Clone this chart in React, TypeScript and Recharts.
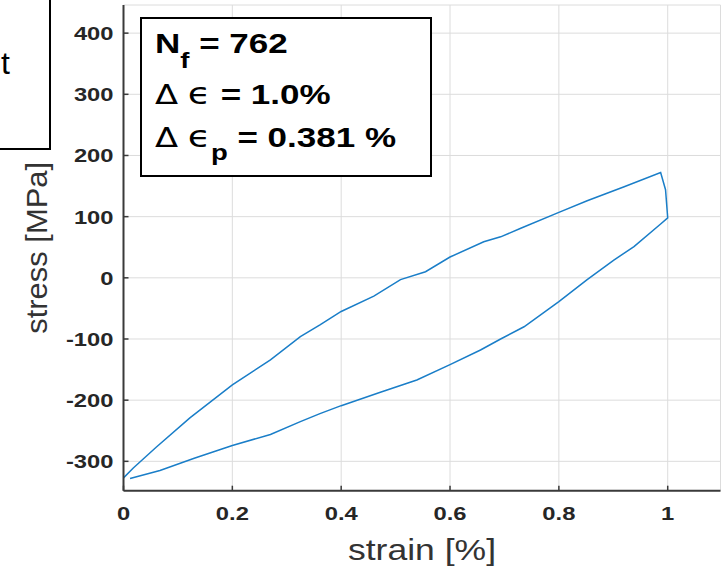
import { LineChart, Line, XAxis, YAxis, CartesianGrid } from 'recharts';

// loading branch, bottom-left to the peak at +1 %
const upperStrain = [0, 0.018, 0.06, 0.122, 0.2, 0.27, 0.325, 0.361, 0.4, 0.46, 0.509, 0.555, 0.6, 0.662, 0.693, 0.73, 0.8, 0.852, 0.92, 0.987, 0.996, 1.0];
const upperStress = [-327, -311, -277, -229, -175, -134, -96, -77, -55, -30, -3, 10, 34, 59, 67, 81, 107, 126, 149, 172, 144, 98];

// unloading branch, back down to the bottom-left
const lowerStrain = [0.987, 0.938, 0.901, 0.852, 0.8, 0.736, 0.693, 0.656, 0.6, 0.539, 0.472, 0.4, 0.361, 0.325, 0.27, 0.2, 0.13, 0.067, 0.012];
const lowerStress = [88, 51, 29, -3, -39, -80, -100, -118, -142, -167, -187, -209, -222, -235, -256, -274, -295, -315, -328];

const xTicks = [0, 0.2, 0.4, 0.6, 0.8, 1];
const yTicks = [-300, -200, -100, 0, 100, 200, 300, 400];

const data = [
  ...upperStrain.map((s, i) => ({ strain: s, stress: upperStress[i] })),
  ...lowerStrain.map((s, i) => ({ strain: s, stress: lowerStress[i] })),
];

const FONT = '"Liberation Sans", Arial, Helvetica, sans-serif';
const AXIS = '#3a3a3a';
const STRETCH = 1.25;

const XTick = (props: any) => {
  const { x, y, payload } = props;
  return (
    <g>
      <line x1={x} y1={y} x2={x} y2={y - 5} stroke={AXIS} strokeWidth={1.5} />
      <text
        transform={`translate(${x},${y + 29}) scale(${STRETCH},1)`}
        textAnchor="middle"
        fontFamily={FONT}
        fontWeight="bold"
        fontSize={19}
        fill="#262626"
      >
        {payload.value}
      </text>
    </g>
  );
};

const YTick = (props: any) => {
  const { x, y, payload } = props;
  return (
    <g>
      <line x1={x} y1={y} x2={x + 5} y2={y} stroke={AXIS} strokeWidth={1.5} />
      <text
        transform={`translate(${x - 10},${y + 7}) scale(${STRETCH},1)`}
        textAnchor="end"
        fontFamily={FONT}
        fontWeight="bold"
        fontSize={19}
        fill="#262626"
      >
        {payload.value}
      </text>
    </g>
  );
};

const TopTick = (props: any) => (
  <line x1={props.x} y1={props.y} x2={props.x} y2={props.y + 5} stroke={AXIS} strokeWidth={1.5} />
);

const RightTick = (props: any) => (
  <line x1={props.x} y1={props.y} x2={props.x - 5} y2={props.y} stroke={AXIS} strokeWidth={1.5} />
);

const XLabel = (props: any) => {
  const { viewBox } = props;
  return (
    <text
      x={viewBox.x + viewBox.width / 2}
      y={viewBox.y + 69}
      textAnchor="middle"
      fontFamily={FONT}
      fontSize={30}
      fill="#333"
      textLength={148}
      lengthAdjust="spacingAndGlyphs"
    >
      strain [%]
    </text>
  );
};

const YLabel = (props: any) => {
  const { viewBox } = props;
  const cy = viewBox.y + viewBox.height / 2;
  return (
    <text
      transform={`translate(47,${cy}) rotate(-90)`}
      textAnchor="middle"
      fontFamily={FONT}
      fontSize={30}
      fill="#333"
      textLength={172}
      lengthAdjust="spacingAndGlyphs"
    >
      stress [MPa]
    </text>
  );
};

const lineStyle = { position: 'absolute' as const, left: 13, whiteSpace: 'nowrap' as const, lineHeight: '28px', transform: 'scaleX(1.25)', transformOrigin: 'left' };
const delta = { fontFamily: '"DejaVu Sans", sans-serif', fontWeight: 'normal' as const, fontSize: 27 };
const eps = { fontFamily: '"DejaVu Sans", sans-serif', fontWeight: 'normal' as const, fontSize: 30 };

const App = () => (
  <div style={{ position: 'absolute', left: 0, top: 0, width: 722, height: 569, overflow: 'hidden', background: '#fff' }}>
    <LineChart width={722} height={569} data={data} margin={{ top: 5, right: 1.5, left: 0, bottom: 0 }}>
      <CartesianGrid stroke="#dcdcdc" strokeWidth={1} />
      <XAxis
        dataKey="strain"
        type="number"
        domain={[0, 1.097]}
        allowDataOverflow
        ticks={xTicks}
        height={78.3}
        tickSize={0}
        tickMargin={0}
        tickLine={false}
        axisLine={{ stroke: AXIS, strokeWidth: 2 }}
        tick={XTick}
        label={<XLabel />}
      />
      <XAxis
        xAxisId="top"
        orientation="top"
        type="number"
        domain={[0, 1.097]}
        allowDataOverflow
        ticks={xTicks}
        height={0}
        tickSize={0}
        tickMargin={0}
        tickLine={false}
        axisLine={{ stroke: AXIS, strokeWidth: 2 }}
        tick={TopTick}
      />
      <YAxis
        type="number"
        domain={[-348, 446]}
        allowDataOverflow
        ticks={yTicks}
        width={123.5}
        tickSize={0}
        tickMargin={0}
        tickLine={false}
        axisLine={{ stroke: AXIS, strokeWidth: 2 }}
        tick={YTick}
        label={<YLabel />}
      />
      <YAxis
        yAxisId="right"
        orientation="right"
        type="number"
        domain={[-348, 446]}
        allowDataOverflow
        ticks={yTicks}
        width={0}
        tickSize={0}
        tickMargin={0}
        tickLine={false}
        axisLine={{ stroke: AXIS, strokeWidth: 2 }}
        tick={RightTick}
      />
      <Line
        dataKey="stress"
        type="linear"
        stroke="#1a7ec8"
        strokeWidth={1.5}
        dot={false}
        isAnimationActive={false}
      />
    </LineChart>

    {/* neighbouring box, cut off at the left edge */}
    <div style={{ position: 'absolute', left: -60, top: -10, width: 111, height: 160, boxSizing: 'border-box', border: '2px solid #000', background: '#fff' }}>
      <span style={{ position: 'absolute', left: 59, top: 55, fontFamily: FONT, fontSize: 32, lineHeight: '32px' }}>t</span>
    </div>

    <div style={{ position: 'absolute', left: 140, top: 17, width: 292, height: 160, boxSizing: 'border-box', border: '2px solid #000', background: '#fff', fontFamily: FONT, fontWeight: 'bold', fontSize: 28, color: '#000' }}>
      <div style={{ ...lineStyle, top: 11 }}>
        N<span style={{ fontSize: 22, verticalAlign: -15 }}>f</span> = 762
      </div>
      <div style={{ ...lineStyle, top: 61 }}>
        <span style={delta}>Δ</span> <span style={eps}>ϵ</span> = 1.0%
      </div>
      <div style={{ ...lineStyle, top: 104 }}>
        <span style={delta}>Δ</span> <span style={eps}>ϵ</span><span style={{ fontSize: 22, verticalAlign: -13 }}>p</span> = 0.381 %
      </div>
    </div>
  </div>
);

export default App;
